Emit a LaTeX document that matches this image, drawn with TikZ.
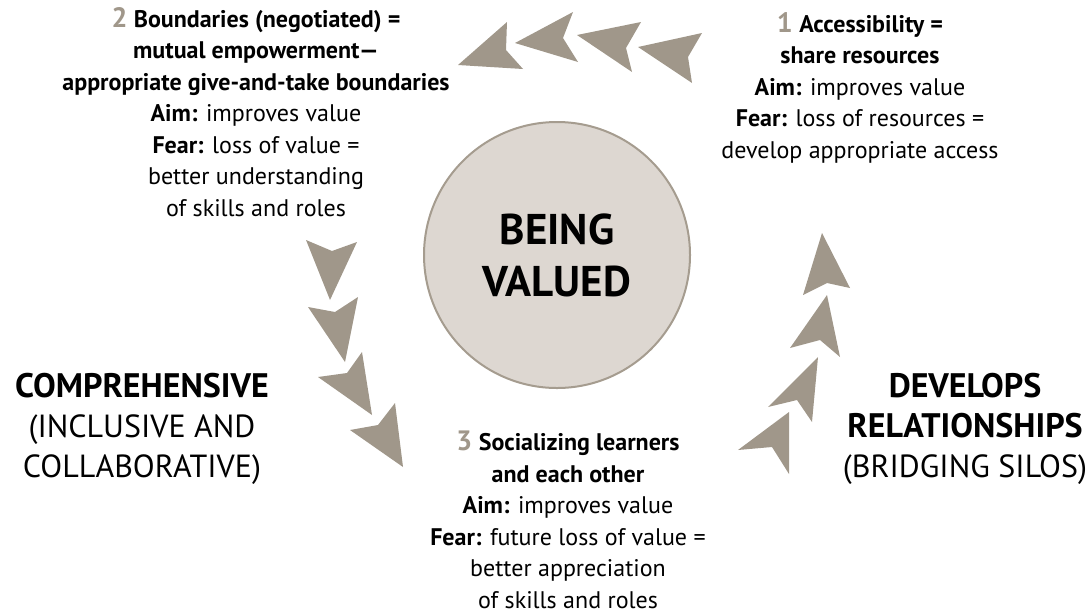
\documentclass[tikz,border=0pt]{standalone}
\usepackage{fontspec}
\setmainfont{PT Sans}
\definecolor{taupe}{HTML}{A0978A}
\definecolor{coreFill}{HTML}{DDD7D1}
\definecolor{coreLine}{HTML}{A59C8F}
\newcommand{\stepnum}[1]{{\color{taupe}\fontsize{28}{28}\selectfont\bfseries #1}}
\begin{document}
\begin{tikzpicture}[x=1pt,y=-1pt,
  chev/.style={fill=taupe},
  info/.style={anchor=base, align=center, inner sep=0pt, font=\fontsize{24}{31.5}\selectfont},
  side/.style={anchor=base, align=center, inner sep=0pt, font=\fontsize{32}{40}\selectfont}]
\useasboundingbox (0,0) rectangle (1091,614);

% central circle
\node[circle, minimum size=266pt, fill=coreFill, draw=coreLine, line width=2pt] (core) at (557,255) {};
\node[anchor=base, align=center, inner sep=0pt, font=\fontsize{43}{52}\selectfont\bfseries] (coretext) at (557,296) {BEING\\VALUED};

% top arc: four arrowheads pointing left
\fill[chev] (458,65) -- (507,22) -- (506,50) -- (523,69) -- cycle;
\fill[chev] (515,43) -- (573,12) -- (563,38) -- (578,62) -- cycle;
\fill[chev] (577,35) -- (641,22) -- (626,48) -- (632,72) -- cycle;
\fill[chev] (638,47) -- (702,33) -- (688,57) -- (692,83) -- cycle;

% left arc: four arrowheads pointing down
\fill[chev] (330,300) -- (306,240) -- (332,251) -- (357,242) -- cycle;
\fill[chev] (345,362) -- (308,307) -- (335,312) -- (358,297) -- cycle;
\fill[chev] (372,415) -- (318,377) -- (347,373) -- (362,352) -- cycle;
\fill[chev] (403,467) -- (350,430) -- (378,425) -- (395,403) -- cycle;

% right arc: four arrowheads pointing up
\fill[chev] (822,233) -- (803,295) -- (827,283) -- (850,288) -- cycle;
\fill[chev] (827,295) -- (790,348) -- (820,340) -- (840,357) -- cycle;
\fill[chev] (818,357) -- (768,407) -- (797,400) -- (812,422) -- cycle;
\fill[chev] (789,412) -- (738,450) -- (772,447) -- (789,474) -- cycle;

% step texts (anchored at the baseline of their last line)
\node[info] (access) at (860,158) {\stepnum{1} \textbf{Accessibility =}\\
  \textbf{share resources}\\
  \textbf{Aim:} improves value\\
  \textbf{Fear:} loss of resources =\\
  develop appropriate access};

\node[info] (bounds) at (256,216) {\stepnum{2} \textbf{Boundaries (negotiated) =}\\
  \textbf{mutual empowerment---}\\
  \textbf{appropriate give-and-take boundaries}\\
  \textbf{Aim:} improves value\\
  \textbf{Fear:} loss of value =\\
  better understanding\\
  of skills and roles};

\node[info] (social) at (568,608) {\stepnum{3} \textbf{Socializing learners}\\
  \textbf{and each other}\\
  \textbf{Aim:} improves value\\
  \textbf{Fear:} future loss of value =\\
  better appreciation\\
  of skills and roles};

% side labels
\node[side] (compr) at (142,477) {{\fontsize{34}{40}\selectfont\bfseries COMPREHENSIVE}\\(INCLUSIVE AND\\COLLABORATIVE)};
\node[side] (devel) at (965,477) {{\fontsize{34}{40}\selectfont\bfseries DEVELOPS}\\{\fontsize{34}{40}\selectfont\bfseries RELATIONSHIPS}\\(BRIDGING SILOS)};
\end{tikzpicture}
\end{document}
